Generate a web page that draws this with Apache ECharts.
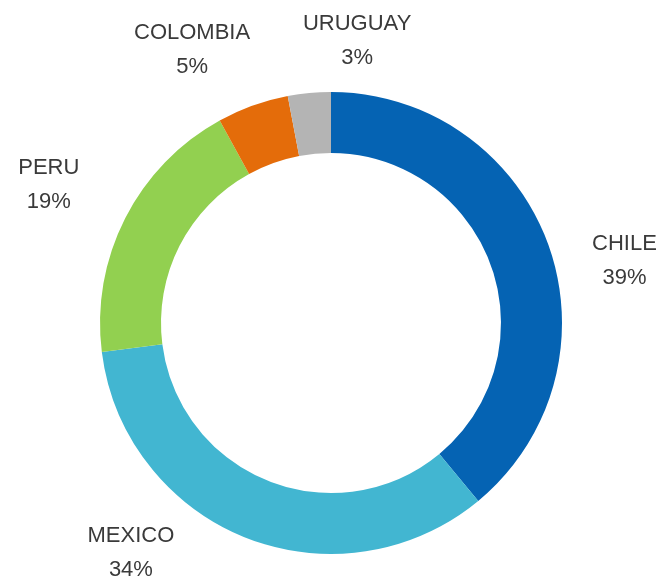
<!DOCTYPE html>
<html>
<head>
<meta charset="utf-8">
<script src="https://cdn.jsdelivr.net/npm/echarts@6/dist/echarts.min.js"></script>
<style>
  html, body { margin: 0; padding: 0; background: #fff; }
  #chart { width: 661px; height: 577px; }
</style>
</head>
<body>
<div id="chart"></div>
<script>
const countries = ['CHILE', 'MEXICO', 'PERU', 'COLOMBIA', 'URUGUAY'];
const shares = [39, 34, 19, 5, 3];

const colors = ['#0563B3', '#42B6D1', '#92D050', '#E46C0A', '#B4B4B4'];
// where each label sits around the ring: [degrees clockwise from 12 o'clock, px from centre]
const labelSpots = [[78, 300], [221, 305], [296, 314], [333, 306], [5.3, 283]];

const cx = 331, cy = 323;

let chart = echarts.init(document.getElementById('chart'));
chart.setOption({
    animation: false,
    color: colors,
    series: [{
        type: 'pie',
        center: [cx, cy],
        radius: [170, 231],
        startAngle: 90,
        clockwise: true,
        avoidLabelOverlap: false,
        itemStyle: { borderWidth: 0 },
        label: {
            show: true,
            position: 'outside',
            formatter: '{b}\n{c}%',
            fontFamily: 'Liberation Sans',
            fontSize: 22,
            lineHeight: 34,
            color: '#3a3a3a'
        },
        labelLine: { show: false },
        labelLayout: function (p) {
            const [ang, dist] = labelSpots[p.dataIndex];
            const a = ang * Math.PI / 180;
            return {
                x: cx + dist * Math.sin(a),
                y: cy - dist * Math.cos(a),
                align: 'center',
                verticalAlign: 'middle'
            };
        },
        data: countries.map((name, i) => ({ name, value: shares[i] }))
    }]
});
</script>
</body>
</html>
